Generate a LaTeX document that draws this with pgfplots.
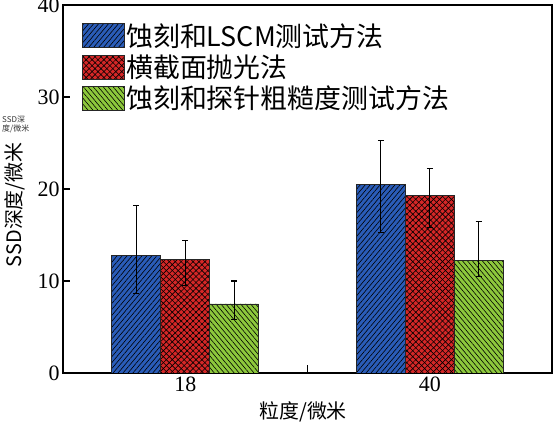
\documentclass[border=0pt]{standalone}
\usepackage{pgfplots}
\pgfplotsset{compat=1.18}
\usepackage{pgfplotstable}
\usepackage{fontspec}
\setmainfont{Liberation Serif}
\newfontfamily\cjk{Noto Sans CJK SC}
\usetikzlibrary{patterns.meta}
\definecolor{cblue}{RGB}{42,92,184}
\definecolor{cred}{RGB}{213,39,39}
\definecolor{cgreen}{RGB}{141,200,60}

\pgfplotstableread{
x y ep em
0 12.75 5.45 4.15
1 20.5 4.8 5.2
}\tblue
\pgfplotstableread{
x y ep em
0 12.3 2.1 2.8
1 19.3 2.9 3.5
}\tred
\pgfplotstableread{
x y ep em
0 7.5 2.5 1.7
1 12.2 4.3 1.7
}\tgreen

\begin{document}
\begin{tikzpicture}
\useasboundingbox (0,0) rectangle (554bp,425bp);
\begin{axis}[
  at={(63bp,52bp)}, anchor=south west, scale only axis,
  width=489bp, height=368bp,
  ybar=0pt, bar width=0.2,
  xmin=-0.5, xmax=1.5, ymin=0, ymax=40,
  xtick={0,1}, xticklabels={18,40}, minor xtick={0.5},
  ytick={0,10,20,30,40},
  tick align=inside, xtick pos=bottom, ytick pos=left,
  major tick length=7bp, minor tick length=8bp,
  tick style={black, line width=1.2pt},
  axis line style={line width=1.2pt},
  ticklabel style={font=\fontsize{22}{22}\selectfont},
  /pgf/number format/assume math mode=true,
  xlabel={粒度/微米}, ylabel={SSD深度/微米},
  label style={font=\cjk\fontsize{20}{20}\selectfont},
  xlabel style={at={(axis description cs:0.491,-0.106)}, anchor=center},
  ylabel style={at={(axis description cs:-0.098,0.457)}, anchor=center},
  legend style={at={(0.039,0.952)}, anchor=north west, draw=none, fill=none,
    font=\cjk\fontsize{27}{29}\selectfont, inner sep=0pt, row sep=5bp,
    nodes={inner sep=1bp}, cells={anchor=west}},
  mylegend/.style={legend image code/.code={\draw[##1] (0bp,-12bp) rectangle (42bp,12bp);}},
  error bars/error bar style={line width=1.2pt, black},
  error bars/error mark options={rotate=90, mark size=3bp, line width=1.2pt, black},
]
\addplot[mylegend, fill=cblue, draw=black!85, line width=1pt,
  postaction={pattern={Lines[angle=50,distance=3.8bp,line width=0.6bp]}},
  error bars/.cd, y dir=both, y explicit]
  table[x=x, y=y, y error plus=ep, y error minus=em] {\tblue};
\addlegendentry{蚀刻和LSCM测试方法}
\addplot[mylegend, fill=cred, draw=black!85, line width=1pt,
  postaction={pattern={Lines[angle=45,distance=4.2bp,line width=0.6bp]}},
  postaction={pattern={Lines[angle=-45,distance=4.2bp,line width=0.6bp]}},
  error bars/.cd, y dir=both, y explicit]
  table[x=x, y=y, y error plus=ep, y error minus=em] {\tred};
\addlegendentry{横截面抛光法}
\addplot[mylegend, fill=cgreen, draw=black!85, line width=1pt,
  postaction={pattern={Lines[angle=-50,distance=3.8bp,line width=0.6bp]}},
  error bars/.cd, y dir=both, y explicit]
  table[x=x, y=y, y error plus=ep, y error minus=em] {\tgreen};
\addlegendentry{蚀刻和探针粗糙度测试方法}
\end{axis}
\node[font=\cjk\fontsize{8}{9}\selectfont, text=black!80, align=left, anchor=north west, inner sep=0pt] at (2bp,309bp) {SSD深\\度/微米};
\end{tikzpicture}
\end{document}
